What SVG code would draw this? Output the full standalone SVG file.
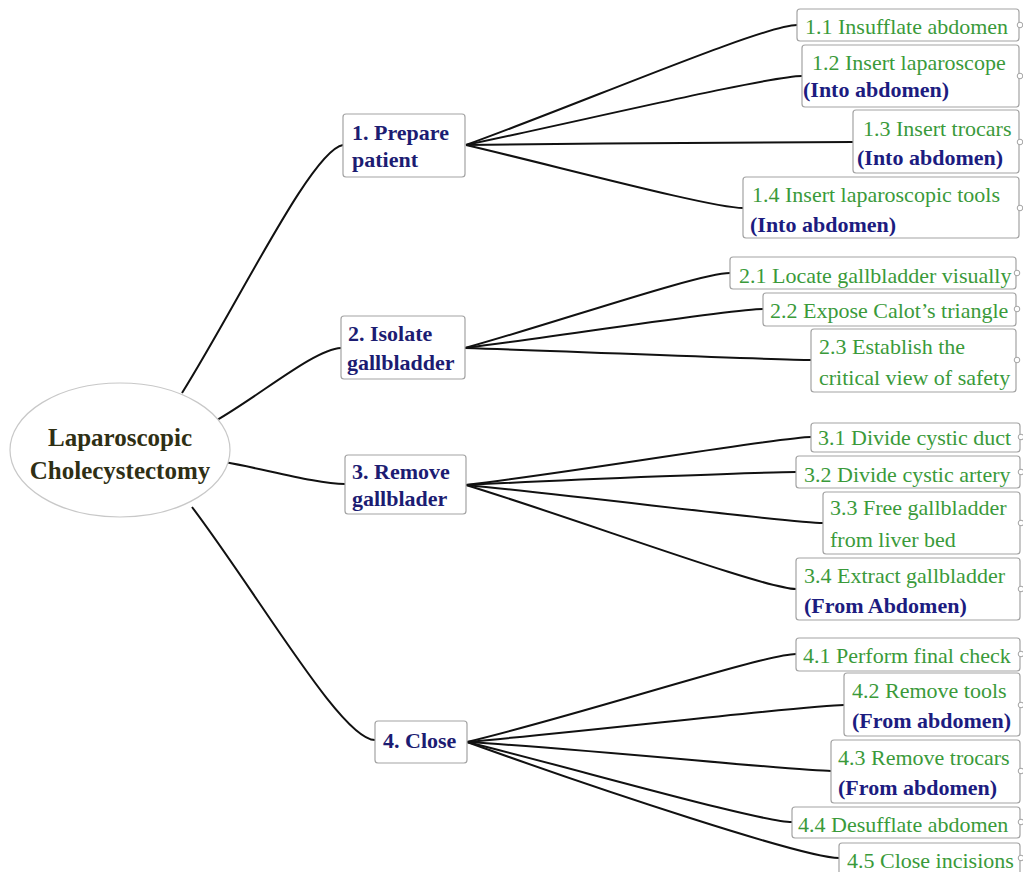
<svg xmlns="http://www.w3.org/2000/svg" width="1023" height="872" viewBox="0 0 1023 872">
<style>
text{font-family:"Liberation Serif","Times New Roman",serif}
.root{font-size:25px;font-weight:bold;fill:#2f2f14}
.l1{font-size:22px;font-weight:bold;fill:#1c1c72}
.lf{font-size:22px;fill:#3a9a3a}
.lb{font-size:22px;font-weight:bold;fill:#1c1c80}
.box{fill:#fff;stroke:#a3a3a3;stroke-width:1.2}
.knob{fill:#fff;stroke:#a3a3a3;stroke-width:1}
.conn path{fill:none;stroke:#111;stroke-width:2}
</style>
<rect width="1023" height="872" fill="#fff"/>
<g class="conn" id="connectors">
<path d="M182,393 C240,300 312,150 343,145"/>
<path d="M217,420 C262,394 315,349 341,348"/>
<path d="M225,462 C268,470 318,484 345,484"/>
<path d="M192,507 C262,600 342,740 375,740"/>
<path d="M466,145 C582,103 764,25 797,25"/>
<path d="M466,145 C585,120 770,76 802,76"/>
<path d="M466,145 C600,143 800,142 853,142"/>
<path d="M466,145 C560,167 712,208 743,208"/>
<path d="M465,348 C558,322 700,273 730,273"/>
<path d="M465,348 C570,335 730,309 763,309"/>
<path d="M465,348 C590,352 775,360 811,360"/>
<path d="M466,485 C590,470 780,437 811,437"/>
<path d="M466,485 C580,479 765,472 796,472"/>
<path d="M466,485 C590,497 790,523 823,523"/>
<path d="M466,485 C580,520 765,589 796,589"/>
<path d="M467,742 C580,715 765,654 796,654"/>
<path d="M467,742 C600,730 810,705 844,705"/>
<path d="M467,742 C595,750 800,771 831,771"/>
<path d="M467,742 C580,770 760,822 792,822"/>
<path d="M467,742 C600,790 805,858 839,858"/>
</g>
<g id="root">
<ellipse cx="120" cy="450" rx="110" ry="67" fill="#fff" stroke="#c8c8c8" stroke-width="1.2"/>
<text class="root" x="120" y="446" text-anchor="middle">Laparoscopic</text>
<text class="root" x="120" y="479" text-anchor="middle">Cholecystectomy</text>
</g>
<g id="n1">
<rect class="box" x="343" y="114" width="122" height="63" rx="3"/>
<text class="l1" x="352" y="140">1. Prepare</text>
<text class="l1" x="352" y="167">patient</text>
</g>
<g id="n2">
<rect class="box" x="341" y="316" width="124" height="63" rx="3"/>
<text class="l1" x="348" y="341">2. Isolate</text>
<text class="l1" x="347" y="370">gallbladder</text>
</g>
<g id="n3">
<rect class="box" x="345" y="455" width="121" height="59" rx="3"/>
<text class="l1" x="352" y="479">3. Remove</text>
<text class="l1" x="352" y="506">gallblader</text>
</g>
<g id="n4">
<rect class="box" x="375" y="721" width="92" height="42" rx="3"/>
<text class="l1" x="383" y="748">4. Close</text>
</g>
<g id="n1_1">
<rect class="box" x="797" y="9" width="222" height="32" rx="3"/>
<text class="lf" x="805" y="34">1.1 Insufflate abdomen</text>
<circle class="knob" cx="1020" cy="25" r="2.8"/>
</g>
<g id="n1_2">
<rect class="box" x="802" y="45" width="217" height="62" rx="3"/>
<text class="lf" x="812" y="70">1.2 Insert laparoscope</text>
<text class="lb" x="803" y="97">(Into abdomen)</text>
<circle class="knob" cx="1020" cy="76" r="2.8"/>
</g>
<g id="n1_3">
<rect class="box" x="853" y="110" width="166" height="63" rx="3"/>
<text class="lf" x="863" y="136">1.3 Insert trocars</text>
<text class="lb" x="857" y="165">(Into abdomen)</text>
<circle class="knob" cx="1020" cy="142" r="2.8"/>
</g>
<g id="n1_4">
<rect class="box" x="743" y="177" width="276" height="61" rx="3"/>
<text class="lf" x="752" y="202">1.4 Insert laparoscopic tools</text>
<text class="lb" x="750" y="232">(Into abdomen)</text>
<circle class="knob" cx="1020" cy="208" r="2.8"/>
</g>
<g id="n2_1">
<rect class="box" x="730" y="257" width="286" height="32" rx="3"/>
<text class="lf" x="739" y="283">2.1 Locate gallbladder visually</text>
<circle class="knob" cx="1017" cy="273" r="2.8"/>
</g>
<g id="n2_2">
<rect class="box" x="763" y="293" width="253" height="33" rx="3"/>
<text class="lf" x="770" y="318">2.2 Expose Calot’s triangle</text>
<circle class="knob" cx="1017" cy="309" r="2.8"/>
</g>
<g id="n2_3">
<rect class="box" x="811" y="329" width="205" height="63" rx="3"/>
<text class="lf" x="819" y="354">2.3 Establish the</text>
<text class="lf" x="819" y="385">critical view of safety</text>
<circle class="knob" cx="1017" cy="360" r="2.8"/>
</g>
<g id="n3_1">
<rect class="box" x="811" y="423" width="209" height="29" rx="3"/>
<text class="lf" x="818" y="445">3.1 Divide cystic duct</text>
<circle class="knob" cx="1021" cy="437" r="2.8"/>
</g>
<g id="n3_2">
<rect class="box" x="796" y="456" width="224" height="32" rx="3"/>
<text class="lf" x="804" y="482">3.2 Divide cystic artery</text>
<circle class="knob" cx="1021" cy="472" r="2.8"/>
</g>
<g id="n3_3">
<rect class="box" x="823" y="492" width="197" height="62" rx="3"/>
<text class="lf" x="830" y="515">3.3 Free gallbladder</text>
<text class="lf" x="830" y="547">from liver bed</text>
<circle class="knob" cx="1021" cy="523" r="2.8"/>
</g>
<g id="n3_4">
<rect class="box" x="796" y="558" width="224" height="62" rx="3"/>
<text class="lf" x="804" y="583">3.4 Extract gallbladder</text>
<text class="lb" x="804" y="613">(From Abdomen)</text>
<circle class="knob" cx="1021" cy="589" r="2.8"/>
</g>
<g id="n4_1">
<rect class="box" x="796" y="638" width="224" height="33" rx="3"/>
<text class="lf" x="803" y="663">4.1 Perform final check</text>
<circle class="knob" cx="1021" cy="654" r="2.8"/>
</g>
<g id="n4_2">
<rect class="box" x="844" y="673" width="176" height="63" rx="3"/>
<text class="lf" x="852" y="698">4.2 Remove tools</text>
<text class="lb" x="852" y="728">(From abdomen)</text>
<circle class="knob" cx="1021" cy="705" r="2.8"/>
</g>
<g id="n4_3">
<rect class="box" x="831" y="740" width="189" height="63" rx="3"/>
<text class="lf" x="838" y="765">4.3 Remove trocars</text>
<text class="lb" x="838" y="795">(From abdomen)</text>
<circle class="knob" cx="1021" cy="771" r="2.8"/>
</g>
<g id="n4_4">
<rect class="box" x="792" y="807" width="228" height="31" rx="3"/>
<text class="lf" x="798" y="832">4.4 Desufflate abdomen</text>
<circle class="knob" cx="1021" cy="822" r="2.8"/>
</g>
<g id="n4_5">
<rect class="box" x="839" y="843" width="181" height="32" rx="3"/>
<text class="lf" x="847" y="868">4.5 Close incisions</text>
<circle class="knob" cx="1021" cy="858" r="2.8"/>
</g>
</svg>
